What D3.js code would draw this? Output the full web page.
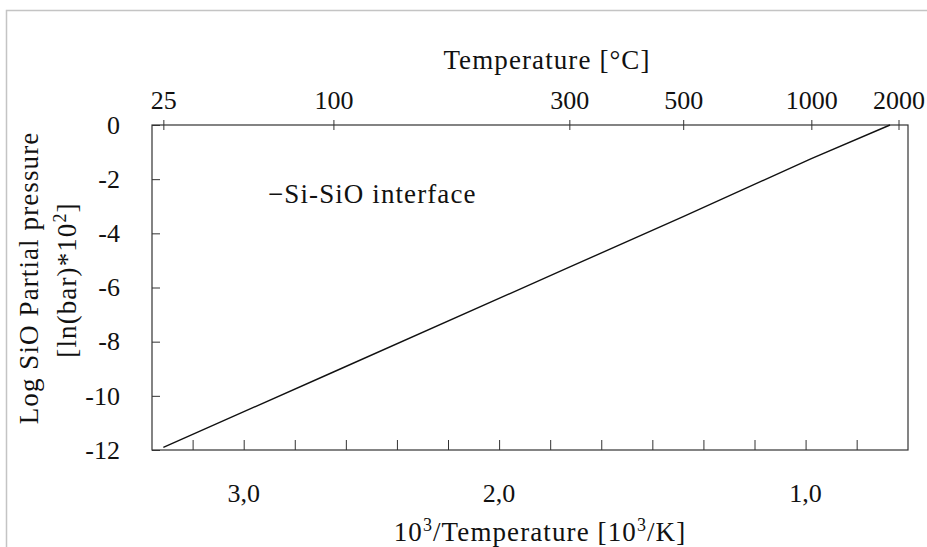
<!DOCTYPE html>
<html lang="en">
<head>
  <meta charset="UTF-8">
  <title>SiO partial pressure</title>
  <script src="https://d3js.org/d3.v7.min.js"></script>
  <style>
    body { margin: 0; background: #fff; }
    svg { display: block; }
    text { font-family: "Liberation Serif", "DejaVu Serif", serif; fill: #111; }
    .axis path, .axis line { stroke: #333; }
    .lbl { font-size: 27px; letter-spacing: 1.1px; }
  </style>
</head>
<body>
  <svg id="chart" width="927" height="547"></svg>

  <script>
    // data: temperature in °C and ln(p) * 10^2
    const tempC = [25, 100, 300, 500, 1000, 1838];
    const logP = [-11.9, -9.12, -5.25, -3.38, -1.24, 0];

    // axis ticks
    const topTicks = [25, 100, 300, 500, 1000, 2000];
    const yTicks = [0, -2, -4, -6, -8, -10, -12];
    const bottomTicks = [3.2, 3.0, 2.8, 2.6, 2.4, 2.2, 2.0, 1.8, 1.6, 1.4, 1.2, 1.0, 0.8, 0.6];
    const bottomLabelAt = [3.0, 2.0, 0.8];
    const bottomLabelText = ["3,0", "2,0", "1,0"];

    const svg = d3.select("#chart");
    const plotL = 152, plotR = 908, plotT = 125, plotB = 450;

    // window border
    svg.append("path")
      .attr("d", "M6.5,547 V10.5 H927")
      .attr("fill", "none")
      .attr("stroke", "#c4c4c4")
      .attr("stroke-width", 1.5);

    const inv = t => 1000 / (t + 273.15);

    const xTop = d3.scaleLinear().domain([3.399, 0.4023]).range([plotL, plotR]);
    const xBottom = d3.scaleLinear().domain([3.359, 0.399]).range([plotL, plotR]);
    const y = d3.scaleLinear().domain([0, -12]).range([plotT, plotB]);

    // frame
    svg.append("rect")
      .attr("x", plotL).attr("y", plotT)
      .attr("width", plotR - plotL).attr("height", plotB - plotT)
      .attr("fill", "none").attr("stroke", "#333").attr("stroke-width", 1.2);

    // top axis (temperature)
    const gTop = svg.append("g").attr("class", "axis")
      .attr("transform", `translate(0,${plotT})`)
      .call(d3.axisTop(xTop)
        .tickValues(topTicks.map(inv))
        .tickFormat((d, i) => topTicks[i])
        .tickSize(5).tickPadding(11));
    gTop.select(".domain").remove();
    gTop.selectAll(".tick line").attr("y1", -5).attr("y2", 5);
    gTop.selectAll("text").style("font-size", "26px");

    // left axis
    const gLeft = svg.append("g").attr("class", "axis")
      .attr("transform", `translate(${plotL},0)`)
      .call(d3.axisLeft(y).tickValues(yTicks).tickSize(-8).tickPadding(32)
        .tickFormat(d => String(d)));
    gLeft.select(".domain").remove();
    gLeft.selectAll("text").style("font-size", "26px");

    // bottom axis
    const gBot = svg.append("g").attr("class", "axis")
      .attr("transform", `translate(0,${plotB})`)
      .call(d3.axisBottom(xBottom).tickValues(bottomTicks).tickFormat("").tickSize(-10));
    gBot.select(".domain").remove();

    svg.selectAll(".bot-label")
      .data(bottomLabelAt)
      .join("text")
      .attr("class", "bot-label")
      .attr("x", d => xBottom(d))
      .attr("y", 502)
      .attr("text-anchor", "middle")
      .style("font-size", "26px")
      .text((d, i) => bottomLabelText[i]);

    // data line
    const line = d3.line()
      .x((d, i) => xTop(inv(tempC[i])))
      .y(d => y(d));
    svg.append("path")
      .datum(logP)
      .attr("d", line)
      .attr("fill", "none")
      .attr("stroke", "#111")
      .attr("stroke-width", 1.4);

    // legend
    svg.append("text")
      .attr("class", "lbl")
      .attr("x", 268).attr("y", 203)
      .text("\u2212Si-SiO interface");

    // titles
    svg.append("text")
      .attr("class", "lbl")
      .attr("x", 547).attr("y", 69)
      .attr("text-anchor", "middle")
      .text("Temperature [°C]");

    const xt = svg.append("text")
      .attr("class", "lbl")
      .attr("x", 540).attr("y", 541)
      .attr("text-anchor", "middle");
    xt.append("tspan").text("10");
    xt.append("tspan").attr("dy", -10).style("font-size", "18px").text("3");
    xt.append("tspan").attr("dy", 10).text("/Temperature [10");
    xt.append("tspan").attr("dy", -10).style("font-size", "18px").text("3");
    xt.append("tspan").attr("dy", 10).text("/K]");

    svg.append("text")
      .attr("class", "lbl")
      .attr("transform", "translate(38,278) rotate(-90)")
      .attr("text-anchor", "middle")
      .text("Log SiO Partial pressure");
    const yt2 = svg.append("text")
      .attr("class", "lbl")
      .attr("transform", "translate(76,280) rotate(-90)")
      .attr("text-anchor", "middle");
    yt2.append("tspan").text("[ln(bar)*10");
    yt2.append("tspan").attr("dy", -10).style("font-size", "18px").text("2");
    yt2.append("tspan").attr("dy", 10).text("]");
  </script>
</body>
</html>
